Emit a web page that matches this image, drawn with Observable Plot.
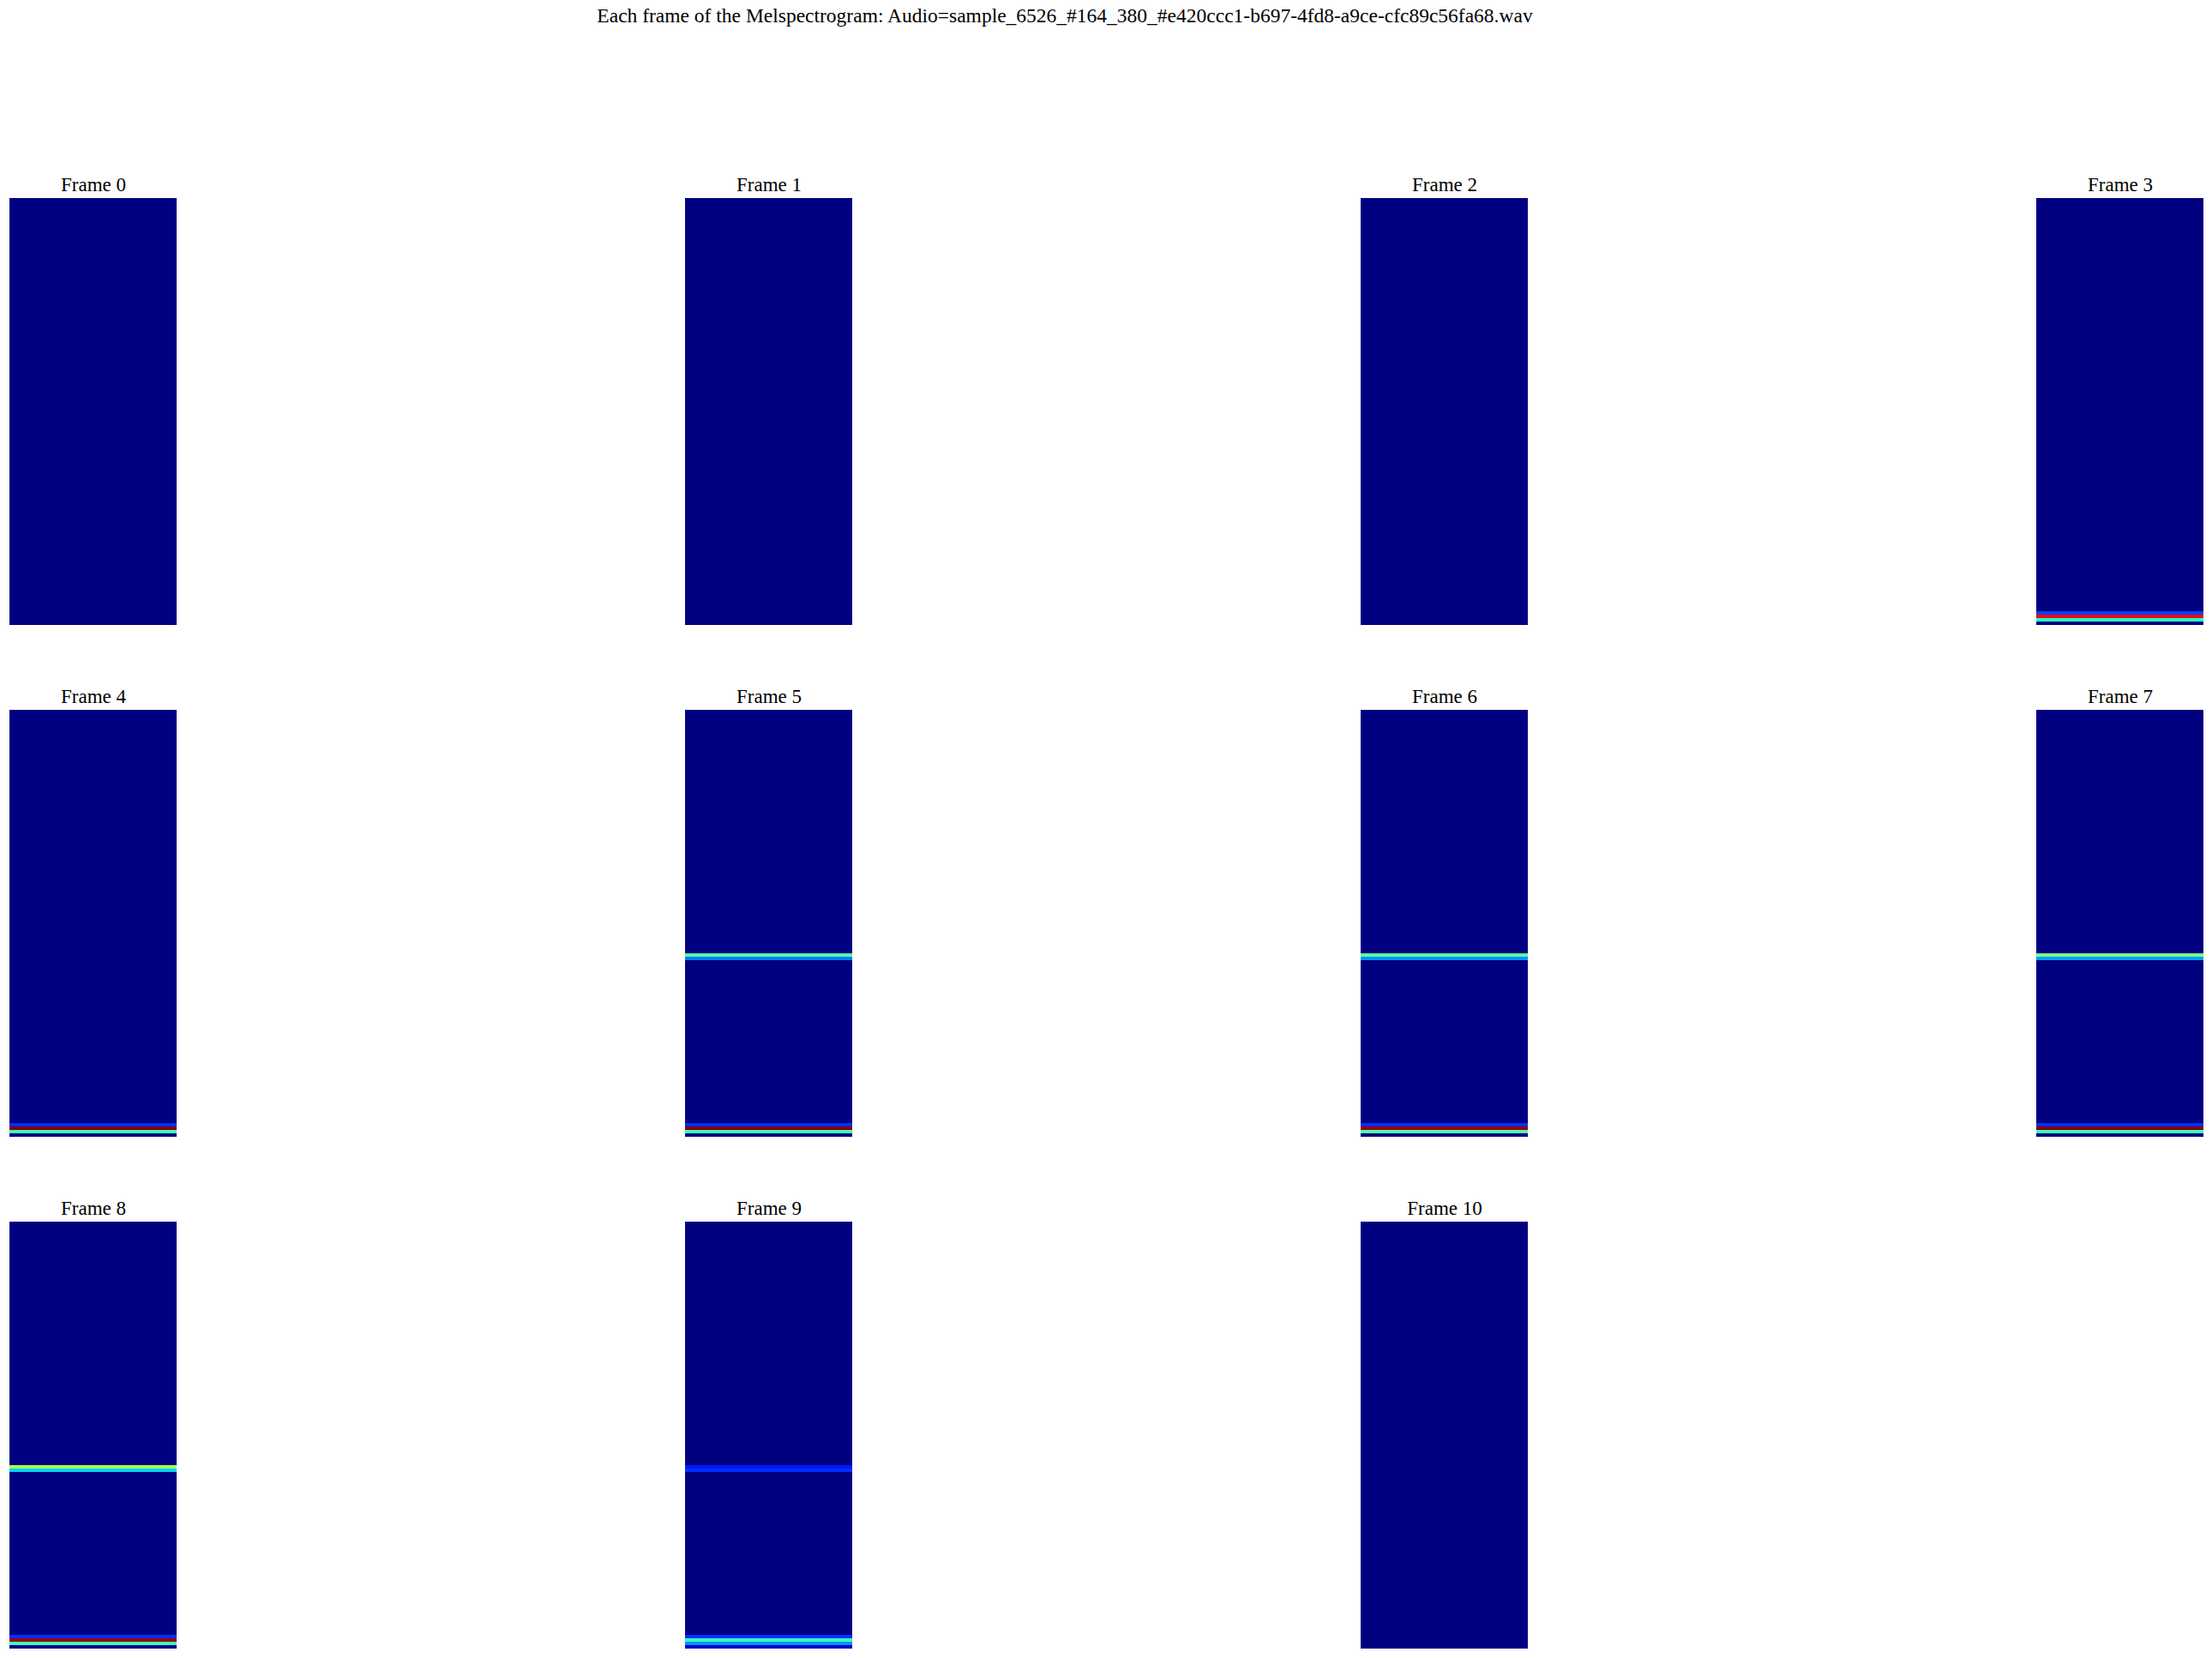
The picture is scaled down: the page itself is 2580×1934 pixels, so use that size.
<!DOCTYPE html>
<html>
<head>
<meta charset="utf-8">
<script src="https://cdn.jsdelivr.net/npm/d3@7"></script>
<script src="https://cdn.jsdelivr.net/npm/@observablehq/plot@0.6"></script>
<style>
  html, body { margin: 0; padding: 0; background: #fff; }
  #wrap { width: 2580px; }
  #title { height: 40px; width: 2580px; position: relative; font-family: "Liberation Serif", serif; font-size: 23.5px; color: #000; }
  #title span { position: absolute; left: 1242px; top: 5px; transform: translateX(-50%); white-space: nowrap; }
</style>
</head>
<body>
<div id="wrap">
  <div id="title"><span>Each frame of the Melspectrogram: Audio=sample_6526_#164_380_#e420ccc1-b697-4fd8-a9ce-cfc89c56fa68.wav</span></div>
  <div id="chart"></div>
</div>
<script>
// ---- data ----
const frameLabels = ["Frame 0","Frame 1","Frame 2","Frame 3","Frame 4","Frame 5","Frame 6","Frame 7","Frame 8","Frame 9","Frame 10"];
const melBinCount = 128;
const backgroundLevel = [0,0,0,0,0,0,0,0,0,0,0];
// normalized magnitude (0..1) of the non-empty mel bins, one value per frame
const bin0  = [0,0,0,0.00,0.00,0.00,0.00,0.00,0.00,0.06,0];
const bin1  = [0,0,0,0.40,0.43,0.43,0.45,0.43,0.43,0.27,0];
const bin2  = [0,0,0,0.90,1.00,1.00,0.98,1.00,0.98,0.42,0];
const bin3  = [0,0,0,0.19,0.17,0.17,0.17,0.17,0.17,0.17,0];
const bin53 = [0,0,0,0.00,0.00,0.25,0.27,0.28,0.33,0.17,0];
const bin54 = [0,0,0,0.00,0.00,0.45,0.46,0.50,0.56,0.15,0];
const activeBins = {0: bin0, 1: bin1, 2: bin2, 3: bin3, 53: bin53, 54: bin54};

// matplotlib "jet" breakpoints
const jetStops = [0, 0.11, 0.125, 0.34, 0.35, 0.375, 0.64, 0.65, 0.66, 0.89, 0.91, 1];
function seg(pts, t) {
  for (let i = 1; i < pts.length; i++) {
    if (t <= pts[i][0]) {
      const [x0, y0] = pts[i-1], [x1, y1] = pts[i];
      return x1 === x0 ? y1 : y0 + (y1 - y0) * (t - x0) / (x1 - x0);
    }
  }
  return pts[pts.length-1][1];
}
const jR = [[0,0],[0.35,0],[0.66,1],[0.89,1],[1,0.5]];
const jG = [[0,0],[0.125,0],[0.375,1],[0.64,1],[0.91,0],[1,0]];
const jB = [[0,0.5],[0.11,1],[0.34,1],[0.65,0],[1,0]];
const jetColors = jetStops.map(t => d3.rgb(255*seg(jR,t), 255*seg(jG,t), 255*seg(jB,t)).formatHex());

// ---- build table ----
const cells = [];
frameLabels.forEach((label, f) => {
  for (let b = 0; b < melBinCount; b++) {
    const arr = activeBins[b];
    cells.push({frame: label, col: f % 4, row: Math.floor(f / 4), bin: b, value: arr ? arr[f] : backgroundLevel[f]});
  }
});
const panels = frameLabels.map((label, f) => ({frame: label, col: f % 4, row: Math.floor(f / 4)}));

const chart = Plot.plot({
  width: 2580,
  height: 1894,
  marginTop: 190,
  marginBottom: 10,
  marginLeft: 10,
  marginRight: 10,
  style: {background: "#fff", fontFamily: "Liberation Serif, serif"},
  x: {domain: [0, 1], axis: null},
  y: {domain: [0, melBinCount], axis: null},
  fx: {domain: [0, 1, 2, 3], axis: null, paddingInner: 0.7526, paddingOuter: 0},
  fy: {domain: [0, 1, 2], axis: null, paddingInner: 0.1665, paddingOuter: 0},
  color: {type: "linear", domain: jetStops, range: jetColors, interpolate: "rgb", clamp: true},
  marks: [
    Plot.rect(cells, {
      fx: "col", fy: "row",
      x1: () => 0, x2: () => 1,
      y1: "bin", y2: d => d.bin + 1,
      fill: "value",
      inset: 0,
      shapeRendering: "crispEdges"
    }),
    Plot.text(panels, {
      fx: "col", fy: "row",
      text: "frame",
      frameAnchor: "top",
      lineAnchor: "bottom",
      dy: -9,
      fontSize: 23,
      fontFamily: "Liberation Serif, serif",
      fill: "#000"
    })
  ]
});
document.getElementById("chart").appendChild(chart);
</script>
</body>
</html>
